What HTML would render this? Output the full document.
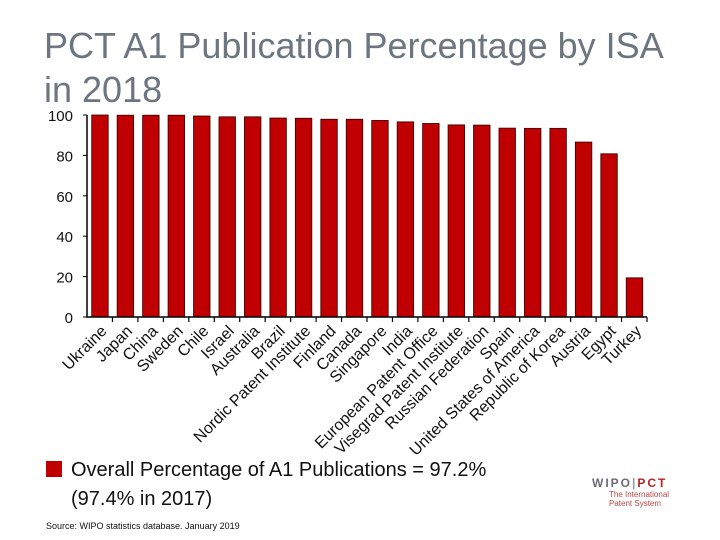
<!DOCTYPE html>
<html><head><meta charset="utf-8"><style>
body{margin:0;width:720px;height:540px;background:#fff;overflow:hidden;font-family:"Liberation Sans",sans-serif;position:relative}
#title{position:absolute;left:44px;top:24px;font-size:36px;line-height:44px;color:#6d7580;white-space:nowrap}
#legend{position:absolute;left:46px;top:456px;font-size:20px;line-height:29px;color:#111}
#legend .sw{position:absolute;left:0;top:5px;width:16px;height:16px;background:#c00000}
#src{position:absolute;left:46px;top:521px;font-size:9px;color:#111}
#logo{position:absolute;left:592px;top:476px;color:#6a6a7a}
</style></head><body>
<div id="title">PCT A1 Publication Percentage by ISA<br>in 2018</div>
<svg id="chart" width="720" height="540" style="position:absolute;left:0;top:0"></svg>
<div id="legend"><span class="sw"></span><div style="padding-left:25px">Overall Percentage of A1 Publications = 97.2%<br>(97.4% in 2017)</div></div>
<div id="src">Source: WIPO statistics database. January 2019</div>
<div id="logo"><div style="font-size:12px;font-weight:bold;letter-spacing:2px">WIPO<span style="color:#999">|</span><span style="color:#b22">PCT</span></div><div style="font-size:8px;color:#b44;line-height:9px;padding-left:17px">The International<br>Patent System</div></div>
<script>
const categories=["Ukraine","Japan","China","Sweden","Chile","Israel","Australia","Brazil","Nordic Patent Institute","Finland","Canada","Singapore","India","European Patent Office","Visegrad Patent Institute","Russian Federation","Spain","United States of America","Republic of Korea","Austria","Egypt","Turkey"];
const values=[100,99.9,99.9,99.9,99.5,99.1,99.1,98.5,98.4,97.9,97.9,97.3,96.6,95.8,95.1,95.0,93.5,93.4,93.4,86.6,80.8,19.4];
const ticks=[0,20,40,60,80,100];
const ns="http://www.w3.org/2000/svg";
const svg=document.getElementById('chart');
const x0=87,x1=647,y0=317,yTop=115;
const step=(x1-x0)/categories.length;
const y=v=>y0-(v/100)*(y0-yTop);
function mk(t,a){const e=document.createElementNS(ns,t);for(const k in a)e.setAttribute(k,a[k]);svg.appendChild(e);return e;}
values.forEach((v,i)=>{
 const r=mk('rect',{x:x0+i*step+4.7,y:y(v),width:16.5,height:y0-y(v),fill:'#c00000',stroke:'#300','stroke-width':0.8});
 
 
});
const ax=mk('path',{d:`M${x0} ${yTop}V${y0}H${x1}`,stroke:'#000','stroke-width':1.5,fill:'none'});


ticks.forEach(t=>{
 const tx=mk('text',{x:73,y:y(t)+6,'text-anchor':'end','font-size':15,fill:'#111'});
 tx.textContent=t;
 
 
 mk('line',{x1:x0-4,x2:x0,y1:y(t),y2:y(t),stroke:'#000'});
});
categories.forEach((c,i)=>{
 const xt=x0+(i+1)*step;
 mk('line',{x1:xt,x2:xt,y1:y0,y2:y0+5,stroke:'#000','stroke-width':1.2});
 const cx=x0+i*step+step/2+8;
 const tx=mk('text',{x:cx,y:y0+15,'text-anchor':'end','font-size':16,fill:'#111',transform:`rotate(-45 ${cx} ${y0+15})`});
 tx.textContent=c;
 
 
});
</script>
</body></html>
